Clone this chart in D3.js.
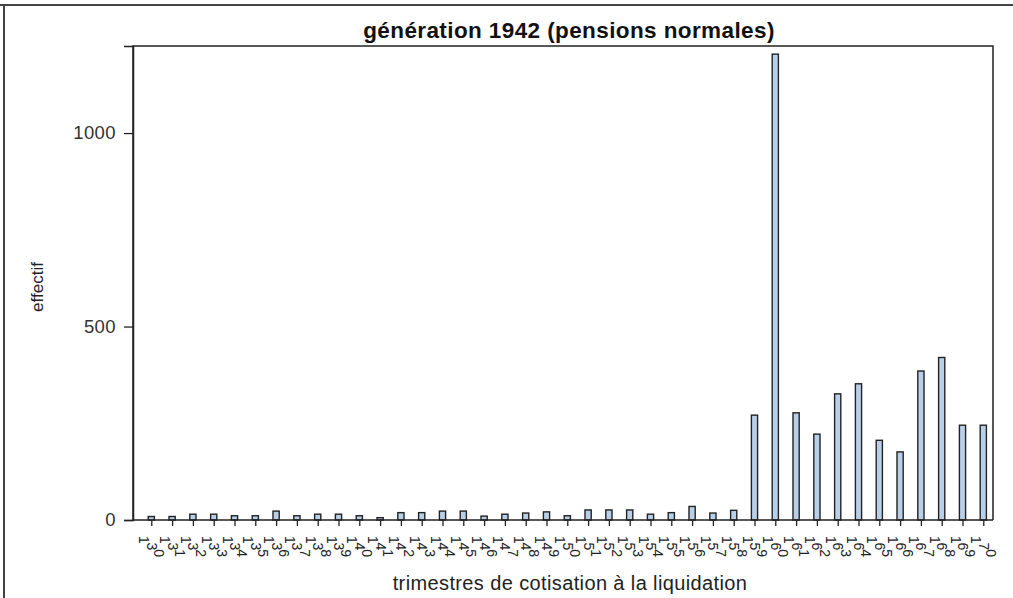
<!DOCTYPE html>
<html>
<head>
<meta charset="utf-8">
<script src="https://cdn.jsdelivr.net/npm/d3@7"></script>
<style>
  html, body { margin: 0; padding: 0; background: #fff; }
  svg { display: block; font-family: "Liberation Sans", Arial, sans-serif; }
</style>
</head>
<body>
<svg id="chart" width="1013" height="598"></svg>
<script>
// Quarters of contribution at retirement (trimestres) and number of pensioners
const categories = [
  "130","131","132","133","134","135","136","137","138","139",
  "140","141","142","143","144","145","146","147","148","149",
  "150","151","152","153","154","155","156","157","158","159",
  "160","161","162","163","164","165","166","167","168","169","170"
];
const effectifs = [
  9, 9, 15, 15, 11, 11, 23, 11, 15, 15,
  11, 6, 19, 19, 23, 23, 10, 15, 18, 21,
  11, 26, 26, 26, 15, 19, 35, 18, 25, 271,
  1204, 277, 222, 326, 352, 206, 176, 385, 420, 245, 245
];
const yTicks = [0, 500, 1000];

const titleText = "génération 1942 (pensions normales)";
const xTitle = "trimestres de cotisation à la liquidation";
const yTitle = "effectif";

const svg = d3.select("#chart");
const box = { left: 133, top: 46, right: 993, bottom: 520 };

// Outer frame
svg.append("line").attr("x1", 0).attr("x2", 1013).attr("y1", 5).attr("y2", 5)
  .attr("stroke", "#444").attr("stroke-width", 2);
svg.append("line").attr("x1", 4).attr("x2", 4).attr("y1", 5).attr("y2", 598)
  .attr("stroke", "#444").attr("stroke-width", 2);

const x = d3.scalePoint().domain(categories).range([box.left + 18.3, box.right - 9.7]);
const y = d3.scaleLinear().domain([0, 1225]).range([box.bottom, box.top]);

// Plot frame (left, top, right)
svg.append("path")
  .attr("d", `M${box.left},${box.bottom}V${box.top}H${box.right}V${box.bottom}`)
  .attr("fill", "none").attr("stroke", "#222").attr("stroke-width", 1.5);

// Bars
const barW = 6.2;
svg.append("g").selectAll("rect")
  .data(categories.map((c, i) => ({ c, v: effectifs[i] })))
  .join("rect")
  .attr("x", d => x(d.c) - barW / 2)
  .attr("y", d => y(d.v))
  .attr("width", barW)
  .attr("height", d => y(0) - y(d.v))
  .attr("fill", "#b8cfe9")
  .attr("stroke", "#222")
  .attr("stroke-width", 1.4);

// Y axis
const yAxis = svg.append("g")
  .attr("transform", `translate(${box.left},0)`)
  .call(d3.axisLeft(y).tickValues(yTicks).tickSize(9).tickPadding(8).tickFormat(d3.format("d")));
yAxis.select(".domain").attr("stroke", "#222").attr("stroke-width", 1.5);
yAxis.selectAll(".tick line").attr("stroke", "#222").attr("stroke-width", 1.3);
yAxis.selectAll(".tick text")
  .attr("font-family", "'Liberation Sans', Arial, sans-serif")
  .attr("font-size", 18.5).attr("letter-spacing", 0.4).attr("fill", "#333");

// X axis with diagonally stacked, turned glyphs
const xAxis = svg.append("g")
  .attr("transform", `translate(0,${box.bottom})`)
  .call(d3.axisBottom(x).tickSize(6).tickFormat(""));
xAxis.select(".domain").attr("d", `M${box.left},0H${box.right}`)
  .attr("stroke", "#222").attr("stroke-width", 1.5);
xAxis.selectAll(".tick line").attr("stroke", "#222").attr("stroke-width", 1.3);

const step = 10;
const angle = 42 * Math.PI / 180;
const labelCy = 26.5;
xAxis.selectAll(".tick").each(function (d) {
  const chars = d.split("");
  const n = chars.length;
  const g = d3.select(this);
  chars.forEach((ch, i) => {
    const t = (i - (n - 1) / 2) * step;
    const cx = t * Math.cos(angle);
    const cy = labelCy + t * Math.sin(angle);
    g.append("text")
      .attr("transform", `translate(${cx},${cy}) rotate(90)`)
      .attr("text-anchor", "middle")
      .attr("dominant-baseline", "central")
      .attr("font-family", "'Liberation Sans', Arial, sans-serif")
      .attr("font-size", 14)
      .attr("fill", "#222")
      .text(ch);
  });
});

// Titles
svg.append("text")
  .attr("x", 569).attr("y", 38)
  .attr("text-anchor", "middle")
  .attr("font-weight", "bold").attr("font-size", 22.5)
  .attr("letter-spacing", 0.4)
  .attr("fill", "#111")
  .text(titleText);

svg.append("text")
  .attr("x", 570).attr("y", 590)
  .attr("text-anchor", "middle")
  .attr("font-size", 20)
  .attr("letter-spacing", 0.38)
  .attr("fill", "#222")
  .text(xTitle);

svg.append("text")
  .attr("transform", "translate(43,287) rotate(-90)")
  .attr("text-anchor", "middle")
  .attr("font-size", 17)
  .attr("fill", "#222")
  .text(yTitle);
</script>
</body>
</html>
